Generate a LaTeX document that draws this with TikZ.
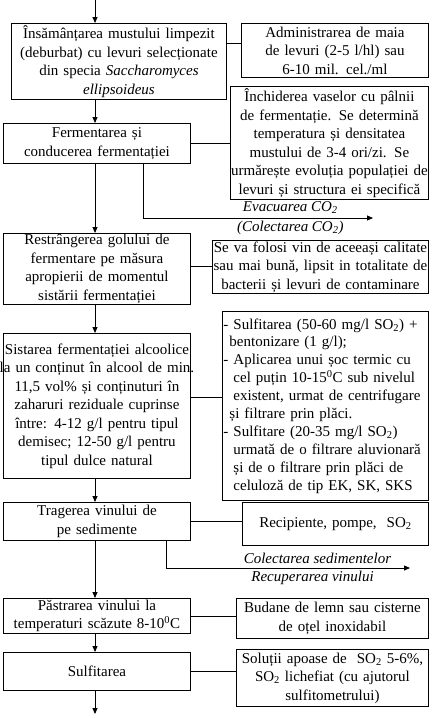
\documentclass[tikz,border=0pt]{standalone}
\usepackage{fontspec}
\setmainfont{Liberation Serif}
\usepackage{tikz}
\usetikzlibrary{arrows.meta,positioning}
\newcommand{\sub}[1]{\textsubscript{#1}}
\newcommand{\grd}{\textsuperscript{0}}

\begin{document}
\begin{tikzpicture}[
  x=1pt, y=-1pt,
  font=\fontsize{15}{18.5}\selectfont,
  stage/.style={draw, line width=0.9pt, anchor=north west, align=center, inner xsep=0pt, inner ysep=1pt},
  info/.style={draw, line width=0.9pt, anchor=north west, align=center, inner xsep=0pt, inner ysep=1pt},
  flow/.style={-{Triangle[length=6pt,width=5pt]}, line width=0.8pt},
  link/.style={line width=0.8pt},
  tag/.style={font=\fontsize{15}{18}\selectfont\itshape, inner sep=1pt}
]
\useasboundingbox (0,0) rectangle (432,718);

% left column
\node[stage, text width=215pt, minimum height=76pt] (inoc) at (11,23)
  {Însămânțarea mustului limpezit\\(deburbat) cu levuri selecționate\\din specia \textit{Saccharomyces}\\\textit{ellipsoideus}};
\node[stage, text width=187pt, minimum height=40pt] (ferm) at (3,123)
  {Fermentarea și\\conducerea fermentației};
\node[stage, text width=187pt, minimum height=70pt] (restr) at (3,233)
  {Restrângerea golului de\\fermentare pe măsura\\apropierii de momentul\\sistării fermentației};
\node[stage, text width=199pt, inner xsep=-6pt, minimum height=145pt] (stop) at (3,333)
  {Sistarea fermentației alcoolice\\la un conținut în alcool de min.\\11,5 vol\% și conținuturi în\\zaharuri reziduale cuprinse\\între: 4-12 g/l pentru tipul\\demisec; 12-50 g/l pentru\\tipul dulce natural};
\node[stage, text width=187pt, minimum height=38pt] (rack) at (3,502)
  {Tragerea vinului de\\pe sedimente};
\node[stage, text width=187pt, minimum height=35pt] (store) at (3,598)
  {Păstrarea vinului la\\temperaturi scăzute 8-10\grd C};
\node[stage, text width=187pt, minimum height=38pt] (sulf) at (3,652)
  {Sulfitarea};

% right column
\node[info, text width=187pt, minimum height=54pt] (yeast) at (241,23)
  {Administrarea de maia\\de levuri (2-5 l/hl) sau\\6-10 mil. cel./ml};
\node[info, text width=198pt, minimum height=113pt] (ctrl) at (230,86)
  {Închiderea vaselor cu pâlnii\\de fermentație. Se determină\\temperatura și densitatea\\mustului de 3-4 ori/zi. Se\\urmărește evoluția populației de\\levuri și structura ei specifică};
\node[info, text width=216pt, minimum height=51pt] (topup) at (212,240)
  {Se va folosi vin de aceeași calitate\\sau mai bună, lipsit in totalitate de\\bacterii și levuri de contaminare};
\node[info, text width=204pt, minimum height=189pt, align=left, inner xsep=1pt,
  font=\fontsize{15}{17.9}\selectfont] (treat) at (222,311)
  {- Sulfitarea (50-60 mg/l SO\sub{2}) +\\
   \hspace*{6pt}bentonizare (1 g/l);\\
   - Aplicarea unui șoc termic cu\\
   \hspace*{10pt}cel puțin 10-15\grd C sub nivelul\\
   \hspace*{10pt}existent, urmat de centrifugare\\
   \hspace*{6pt}și filtrare prin plăci.\\
   - Sulfitare (20-35 mg/l SO\sub{2})\\
   \hspace*{10pt}urmată de o filtrare aluvionară\\
   \hspace*{10pt}și de o filtrare prin plăci de\\
   \hspace*{10pt}celuloză de tip EK, SK, SKS};
\node[info, text width=186pt, minimum height=43pt] (tools) at (242,502)
  {Recipiente, pompe,\ \ SO\sub{2}};
\node[info, text width=192pt, minimum height=40pt] (casks) at (236,598)
  {Budane de lemn sau cisterne\\de oțel inoxidabil};
\node[info, text width=192pt, minimum height=57pt] (sol) at (236,649)
  {Soluții apoase de\ \ SO\sub{2} 5-6\%,\\SO\sub{2} lichefiat (cu ajutorul\\sulfitometrului)};

% main flow
\coordinate (in) at (95,0);
\coordinate (out) at (95,714);
\coordinate (co2) at (373,218);
\coordinate (lees) at (410,568);

\draw[flow] (in) -- (inoc.north -| in);
\draw[flow] (inoc.south -| in) -- (ferm.north -| in);
\draw[flow] (ferm.south -| in) -- (restr.north -| in);
\draw[flow] (restr.south -| in) -- (stop.north -| in);
\draw[flow] (stop.south -| in) -- (rack.north -| in);
\draw[flow] (rack.south -| in) -- (store.north -| in);
\draw[flow] (store.south -| in) -- (sulf.north -| in);
\draw[flow] (sulf.south -| in) -- (out);

% side links
\draw[link] ([yshift=-20pt]inoc.north east) -- ([yshift=-20pt]inoc.north east -| yeast.west);
\draw[link] (ferm.east) -- (ferm.east -| ctrl.west);
\draw[link] (topup.west -| restr.east) -- (topup.west);
\draw[link] ([yshift=9pt]stop.east) -- ([yshift=9pt]stop.east -| treat.west);
\draw[link] (rack.east) -- (rack.east -| tools.west);
\draw[link] (store.east) -- (store.east -| casks.west);
\draw[link] (sulf.east) -- (sulf.east -| sol.west);

% by-products
\draw[flow] ([xshift=46.5pt]ferm.south) |- (co2)
  node[tag, pos=0.82, above=3pt] (evac) {Evacuarea CO\sub{2}}
  node[tag, pos=0.82, below=2pt] (coll) {(Colectarea CO\sub{2})};
\draw[flow] ([xshift=69.5pt]rack.south) |- (lees)
  node[tag, pos=0.81, above=3pt] (sedim) {Colectarea sedimentelor}
  node[tag, pos=0.8, below=2pt] (recov) {Recuperarea vinului};
\end{tikzpicture}
\end{document}
